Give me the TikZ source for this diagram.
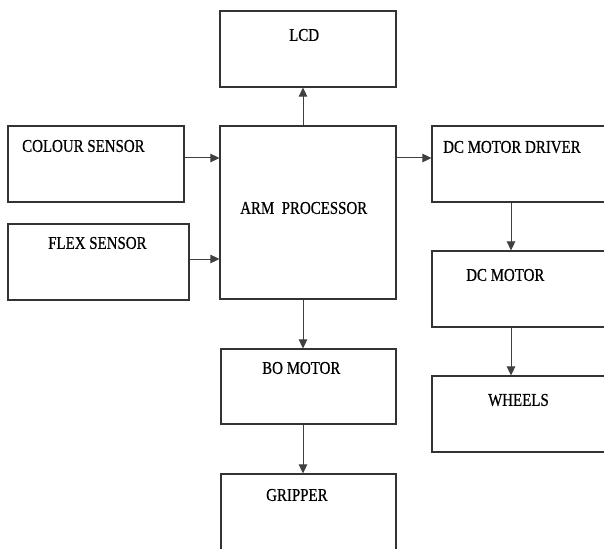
\documentclass[tikz,border=0pt]{standalone}
\usepackage{fontspec}
\setmainfont{Liberation Serif}[FakeStretch=0.83,FakeBold=0.6]
\usetikzlibrary{arrows.meta,positioning}

\begin{document}
\begin{tikzpicture}[
  x=1pt,y=-1pt,
  block/.style={
    draw=black!80,
    line width=1.2pt,
    inner sep=0pt,
    minimum width=176pt,
    minimum height=76pt
  },
  blocktext/.style={anchor=west,inner sep=0pt,font=\fontsize{18}{20}\selectfont},
  arrow/.style={-{Triangle[length=9pt,width=8.5pt]},line width=1pt,black!75}
]
  \useasboundingbox (0,0) rectangle (604,548);
  \clip (0,0) rectangle (604,548);
  % boxes
  \node[block] (lcd) at (308,49) {};
  \node[block] (colour) at (96,164) {};
  \node[block,minimum width=181pt] (flex) at (98.5,262) {};
  \node[block,minimum height=173pt] (arm) at (308,212.5) {};
  \node[block,minimum width=188pt] (driver) at (526,164) {};
  \node[block,minimum width=188pt] (motor) at (526,289) {};
  \node[block,minimum width=188pt] (wheels) at (526,414) {};
  \node[block,minimum width=175pt,minimum height=75pt] (bo) at (308.5,386.5) {};
  \node[block,minimum width=175pt] (gripper) at (308.5,512) {};
  % texts
  \node[blocktext] (lcdtext) at (289,35) {LCD};
  \node[blocktext] (colourtext) at (22,146) {COLOUR SENSOR};
  \node[blocktext] (flextext) at (48,243) {FLEX SENSOR};
  \node[blocktext] (armtext) at (240,208) {ARM\ \ PROCESSOR};
  \node[blocktext] (drivertext) at (443,147) {DC MOTOR DRIVER};
  \node[blocktext] (motortext) at (466,275) {DC MOTOR};
  \node[blocktext] (wheelstext) at (488,400) {WHEELS};
  \node[blocktext] (botext) at (262,368) {BO MOTOR};
  \node[blocktext] (grippertext) at (266,495) {GRIPPER};
  % connectors
  \coordinate (cx) at (303,0);
  \coordinate (rx) at (511,0);
  \draw[arrow] (arm.north -| cx) -- (lcd.south -| cx);
  \draw[arrow] ([yshift=6pt]colour.east) -- ([yshift=6pt]colour.east -| arm.west);
  \draw[arrow] ([yshift=3pt]flex.east) -- ([yshift=3pt]flex.east -| arm.west);
  \draw[arrow] ([yshift=6pt]driver.west -| arm.east) -- ([yshift=6pt]driver.west);
  \draw[arrow] (driver.south -| rx) -- (motor.north -| rx);
  \draw[arrow] (motor.south -| rx) -- (wheels.north -| rx);
  \draw[arrow] (arm.south -| cx) -- (bo.north -| cx);
  \draw[arrow] (bo.south -| cx) -- (gripper.north -| cx);
\end{tikzpicture}
\end{document}
